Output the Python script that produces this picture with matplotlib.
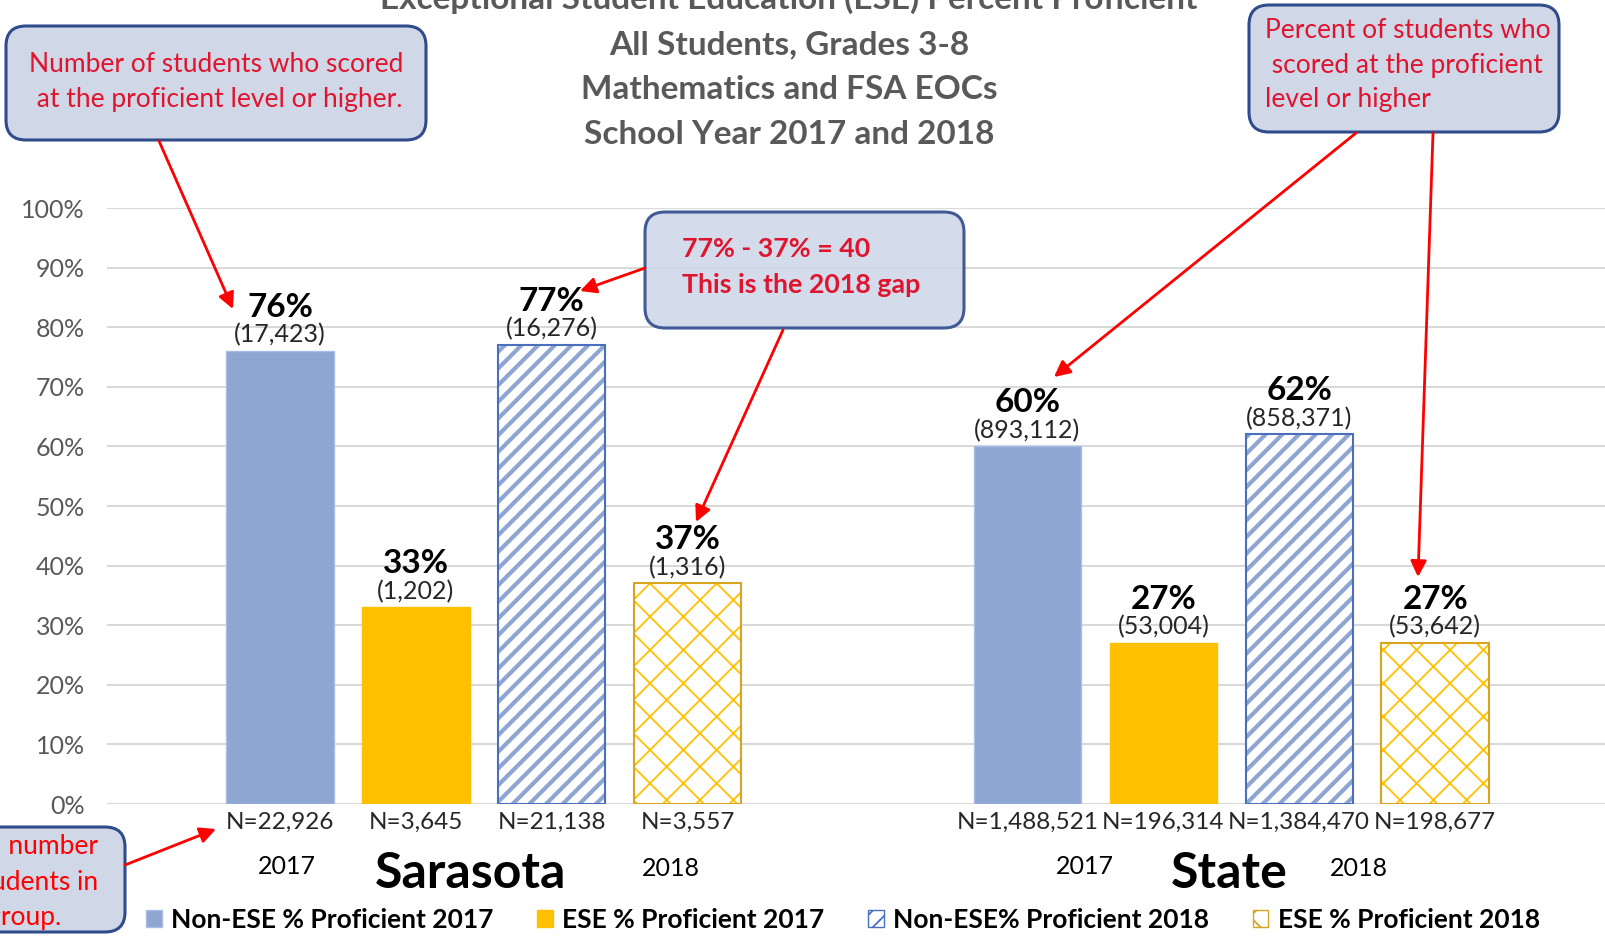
import matplotlib
matplotlib.use('Agg')
import numpy as np
import matplotlib.pyplot as plt
from matplotlib.patches import Patch, FancyBboxPatch

plt.rcParams['font.family'] = ['Lato', 'DejaVu Sans']

# data
series_names = ['Non-ESE % Proficient 2017', 'ESE % Proficient 2017',
                'Non-ESE% Proficient 2018', 'ESE % Proficient 2018']
sarasota_pct = [76, 33, 77, 37]
sarasota_prof = ['17,423', '1,202', '16,276', '1,316']
sarasota_n = ['22,926', '3,645', '21,138', '3,557']
state_pct = [60, 27, 62, 27]
state_prof = ['893,112', '53,004', '858,371', '53,642']
state_n = ['1,488,521', '196,314', '1,384,470', '198,677']
groups = ['Sarasota', 'State']
years = ['2017', '2018']
title_lines = ['Exceptional Student Education (ESE) Percent Proficient',
               'All Students, Grades 3-8',
               'Mathematics and FSA EOCs',
               'School Year 2017 and 2018']
yticks = [0, 10, 20, 30, 40, 50, 60, 70, 80, 90, 100]

# styles
BLUE = '#8FA5D2'
YELLOW = '#FFC000'
RED = '#FF0000'
CRIMSON = '#E0142E'
BOXFILL = '#D0D8E8'
BOXEDGE = '#2F4B8C'
GRAY = '#595959'
styles = [
    dict(fill=BLUE, hatch=None, edge='#A9BEE6'),
    dict(fill=YELLOW, hatch=None, edge=YELLOW),
    dict(fill='white', hatch='//', hcolor=BLUE, edge='#4A6FBF', hlw=3.0),
    dict(fill='white', hatch='x', hcolor=YELLOW, edge='#D9A521', hlw=1.3),
]

W, H = 1605, 936
fig = plt.figure(figsize=(W / 100, H / 100), dpi=100)

# main axes, placed in pixel terms
ax_l, ax_r, ax_t, ax_b = 107, 1605, 208, 804
ax = fig.add_axes([ax_l / W, (H - ax_b) / H, (ax_r - ax_l) / W, (ax_b - ax_t) / H])

x_sar = np.arange(4)
x_state = np.arange(4) + 5.5
step = 135.9
ax.set_xlim(-(280 - ax_l) / step, (ax_r - 280) / step)
ax.set_ylim(0, 100)
width = 0.79

for i in range(4):
    st = styles[i]
    xs = [x_sar[i], x_state[i]]
    vals = [sarasota_pct[i], state_pct[i]]
    if st['hatch'] is None:
        ax.bar(xs, vals, width, color=st['fill'], edgecolor=st['edge'], linewidth=1, zorder=2)
    else:
        plt.rcParams['hatch.linewidth'] = st['hlw']
        bars = ax.bar(xs, vals, width, color='white', edgecolor=st['hcolor'],
                      linewidth=0, hatch=st['hatch'], zorder=2)
        for b in bars:
            if hasattr(b, 'set_hatch_linewidth'):
                b.set_hatch_linewidth(st['hlw'])
        ax.bar(xs, vals, width, fill=False, edgecolor=st['edge'], linewidth=1.5, zorder=3)

# labels on bars
for xs, pcts, profs, ns in [(x_sar, sarasota_pct, sarasota_prof, sarasota_n),
                            (x_state, state_pct, state_prof, state_n)]:
    for x, p, pr, n in zip(xs, pcts, profs, ns):
        ax.annotate(f'{p}%', (x, p), xytext=(0, 31.5), textcoords='offset points',
                    ha='center', va='center', fontsize=24, weight='bold', color='black')
        ax.annotate(f'({pr})', (x, p), xytext=(0, 11.5), textcoords='offset points',
                    ha='center', va='center', fontsize=18, color='#262626')
        ax.annotate(f'N={n}', (x, 0), xytext=(0, -13), textcoords='offset points',
                    ha='center', va='center', fontsize=17.5, color='#262626',
                    annotation_clip=False)

ax.set_yticks(yticks)
ax.set_yticklabels([f'{v}%' for v in yticks])
ax.tick_params(axis='y', length=0, pad=16, labelsize=18, labelcolor=GRAY)
ax.tick_params(axis='x', length=0, labelbottom=False)
ax.yaxis.grid(True, color='#D9D9D9', linewidth=1.5)
ax.set_axisbelow(True)
for s in ax.spines.values():
    s.set_visible(False)

# legend
handles = []
for st in styles:
    if st['hatch'] is None:
        handles.append(Patch(facecolor=st['fill'], edgecolor=st['edge']))
    else:
        handles.append(Patch(facecolor='white', edgecolor=st['edge'], hatch=st['hatch']))
fig.legend(handles, series_names, loc='center', bbox_to_anchor=(843 / W, 1 - 920 / H),
           ncol=4, frameon=False, prop=dict(weight='bold', size=19),
           handlelength=0.6, handleheight=0.6, handletextpad=0.35,
           columnspacing=1.65, borderpad=0)

# overlay in pixel coordinates for titles, callouts and arrows
ov = fig.add_axes([0, 0, 1, 1], zorder=5)
ov.set_xlim(0, W)
ov.set_ylim(H, 0)
ov.axis('off')

for line, yb in zip(title_lines, [9, 54, 99, 144]):
    ov.text(789, yb, line, ha='center', va='baseline', fontsize=24,
            weight='bold', color=GRAY)

# category labels under the axis
for (gx, g), (y1, y2) in zip([(471, groups[0]), (1229, groups[1])],
                             [(287, 671), (1085, 1359)]):
    ov.text(gx, 873, g, ha='center', va='center', fontsize=36, weight='bold', color='black')
    ov.text(y1, 866, years[0], ha='center', va='center', fontsize=18, color='black')
    ov.text(y2, 868, years[1], ha='center', va='center', fontsize=18, color='black')


def callout(x0, y0, x1, y1, alpha=1.0):
    box = FancyBboxPatch((x0, y0), x1 - x0, y1 - y0,
                         boxstyle='round,pad=0,rounding_size=20',
                         facecolor=BOXFILL, edgecolor=BOXEDGE, linewidth=2.2, alpha=alpha)
    ov.add_patch(box)


def arrow(tail, head):
    ov.annotate('', xy=head, xytext=tail,
                arrowprops=dict(arrowstyle='-|>', color=RED, lw=2,
                                mutation_scale=24, shrinkA=0, shrinkB=0))


callout(6, 26, 426, 140)
ov.text(216, 64, 'Number of students who scored', ha='center', va='center',
        fontsize=19, color=CRIMSON)
ov.text(216, 99, ' at the proficient level or higher.', ha='center', va='center',
        fontsize=19, color=CRIMSON)

callout(645, 212, 964, 328, alpha=0.9)
ov.text(682, 249, '77% - 37% = 40', ha='left', va='center', fontsize=19.3,
        weight='bold', color=CRIMSON)
ov.text(682, 285, 'This is the 2018 gap', ha='left', va='center', fontsize=19.3,
        weight='bold', color=CRIMSON)

callout(1249, 5, 1559, 132)
for line, yy in zip(['Percent of students who', ' scored at the proficient', 'level or higher'],
                    [31, 66, 100]):
    ov.text(1265, yy, line, ha='left', va='center', fontsize=19, color=CRIMSON)

callout(-200, 827, 125, 932)
ov.text(98, 847, 'Total number', ha='right', va='center', fontsize=19, color=RED)
ov.text(98, 882, 'of students in', ha='right', va='center', fontsize=19, color=RED)
ov.text(61, 917, 'the group.', ha='right', va='center', fontsize=19, color=RED)

arrow((159, 141), (233, 309))
arrow((645, 268), (580, 291))
arrow((783, 330), (696, 522))
arrow((1356, 133), (1054, 377))
arrow((1433, 133), (1418, 577))
arrow((125, 865), (216, 829))

fig.savefig('out.png', dpi=100)
